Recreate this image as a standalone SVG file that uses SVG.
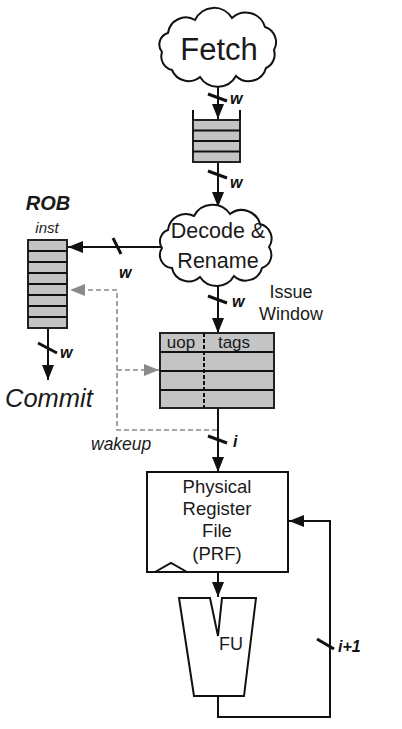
<svg xmlns="http://www.w3.org/2000/svg" width="402" height="729" viewBox="0 0 402 729">
<defs>
<marker id="ah" viewBox="0 0 15 12" refX="15" refY="6" markerWidth="15" markerHeight="12" orient="auto" markerUnits="userSpaceOnUse"><path d="M0,0 L15,6 L0,12 z" fill="#111"/></marker>
<marker id="ahg" viewBox="0 0 15 12" refX="15" refY="6" markerWidth="15" markerHeight="12" orient="auto" markerUnits="userSpaceOnUse"><path d="M0,0 L15,6 L0,12 z" fill="#8a8a8a"/></marker>
</defs>
<style>
.ln{stroke:#111;stroke-width:2;fill:none}
.sl{stroke:#111;stroke-width:3;fill:none}
.dg{stroke:#8a8a8a;stroke-width:1.6;fill:none;stroke-dasharray:5,3}
.q{fill:#c4c4c4;stroke:#222;stroke-width:2}
.t{font-family:"Liberation Sans",Arial,sans-serif;fill:#1a1a1a}
.lb{font-family:"Liberation Sans",Arial,sans-serif;font-weight:bold;font-style:italic;font-size:16px;fill:#111}
.cl{fill:#fff;stroke:#111;stroke-width:2}
</style>
<rect width="402" height="729" fill="#fff"/>

<g id="connectors">
<line class="ln" x1="218" y1="85" x2="218" y2="119" marker-end="url(#ah)"/>
<line class="sl" x1="208" y1="94" x2="227" y2="101"/>
<text class="lb" x="230" y="104">w</text>

<line class="ln" x1="218" y1="162" x2="218" y2="207" marker-end="url(#ah)"/>
<line class="sl" x1="208" y1="171" x2="227" y2="178"/>
<text class="lb" x="230" y="188">w</text>

<line class="ln" x1="162" y1="247" x2="68" y2="247" marker-end="url(#ah)"/>
<line class="sl" x1="113" y1="238" x2="121" y2="254"/>
<text class="lb" x="119" y="278">w</text>

<line class="ln" x1="218" y1="285" x2="218" y2="333" marker-end="url(#ah)"/>
<line class="sl" x1="208" y1="296" x2="227" y2="303"/>
<text class="lb" x="232" y="307">w</text>

<line class="ln" x1="218" y1="408" x2="218" y2="472" marker-end="url(#ah)"/>
<line class="sl" x1="208" y1="436" x2="227" y2="443"/>
<text class="lb" x="233" y="447">i</text>

<line class="ln" x1="218" y1="572" x2="218" y2="597" marker-end="url(#ah)"/>

<polyline class="ln" points="218,696 218,717 330,717 330,521 289,521" marker-end="url(#ah)"/>
<line class="sl" x1="317" y1="639" x2="334" y2="649"/>
<text class="lb" x="338" y="652">i+1</text>

<line class="ln" x1="48" y1="328" x2="48" y2="380" marker-end="url(#ah)"/>
<line class="sl" x1="38" y1="343" x2="57" y2="353"/>
<text class="lb" x="60" y="358">w</text>

<path class="dg" d="M217,430 H117 V290 H70" marker-end="url(#ahg)"/>
<path class="dg" d="M117,370 H159" marker-end="url(#ahg)"/>
<text class="t" x="91" y="450" font-size="17.5" font-style="italic">wakeup</text>
</g>

<g id="fetch">
<path class="cl" d="M168,33 A18,18 0 0 1 195,20 A21,21 0 0 1 232,18 A20,20 0 0 1 265,27 A16,16 0 0 1 274,50 A15,15 0 0 1 266,68 A18,18 0 0 1 236,76 A21,21 0 0 1 200,77 A18,18 0 0 1 172,70 A14,14 0 0 1 162,52 A12,12 0 0 1 168,33 Z"/>
<text class="t" x="219" y="60" font-size="31" text-anchor="middle">Fetch</text>
</g>

<g id="fetch-queue">
<rect class="q" x="193" y="120" width="47" height="42"/>
<line class="ln" x1="193" y1="130.5" x2="240" y2="130.5"/>
<line class="ln" x1="193" y1="141" x2="240" y2="141"/>
<line class="ln" x1="193" y1="151.5" x2="240" y2="151.5"/>
<line class="ln" x1="193" y1="110" x2="193" y2="120"/>
<line class="ln" x1="240" y1="110" x2="240" y2="120"/>
</g>

<g id="decode">
<path class="cl" d="M168,230 A18,18 0 0 1 194,216 A21,21 0 0 1 230,214 A19,19 0 0 1 260,224 A15,15 0 0 1 269,247 A14,14 0 0 1 262,268 A17,17 0 0 1 234,276 A20,20 0 0 1 200,277 A17,17 0 0 1 172,268 A13,13 0 0 1 162,248 A12,12 0 0 1 168,230 Z"/>
<text class="t" x="218" y="238" font-size="21.5" text-anchor="middle">Decode &amp;</text>
<text class="t" x="218" y="268" font-size="21.5" text-anchor="middle">Rename</text>
</g>

<g id="rob">
<text class="t" x="48" y="210" font-size="20" font-weight="bold" font-style="italic" text-anchor="middle">ROB</text>
<text class="t" x="47" y="233" font-size="15" font-style="italic" text-anchor="middle">inst</text>
<rect class="q" x="28" y="240" width="39" height="88"/>
<line class="ln" x1="28" y1="251" x2="67" y2="251"/>
<line class="ln" x1="28" y1="262" x2="67" y2="262"/>
<line class="ln" x1="28" y1="273" x2="67" y2="273"/>
<line class="ln" x1="28" y1="284" x2="67" y2="284"/>
<line class="ln" x1="28" y1="295" x2="67" y2="295"/>
<line class="ln" x1="28" y1="306" x2="67" y2="306"/>
<line class="ln" x1="28" y1="317" x2="67" y2="317"/>
</g>

<g id="commit">
<text class="t" x="5" y="407" font-size="25.5" font-style="italic">Commit</text>
</g>

<g id="issue-window">
<text class="t" x="291" y="298" font-size="18" text-anchor="middle">Issue</text>
<text class="t" x="291" y="320" font-size="18" text-anchor="middle">Window</text>
<rect class="q" x="160" y="333" width="114" height="75"/>
<line class="ln" x1="160" y1="352" x2="274" y2="352"/>
<line class="ln" x1="160" y1="371" x2="274" y2="371"/>
<line class="ln" x1="160" y1="390" x2="274" y2="390"/>
<line x1="204" y1="333" x2="204" y2="408" stroke="#111" stroke-width="2" stroke-dasharray="4,2"/>
<text class="t" x="181" y="348" font-size="17" text-anchor="middle">uop</text>
<text class="t" x="234" y="348" font-size="17" text-anchor="middle">tags</text>
</g>

<g id="prf">
<rect x="147" y="472" width="141" height="100" fill="#fff" stroke="#111" stroke-width="2"/>
<polyline class="ln" points="155,572 171,563 187,572"/>
<text class="t" x="217" y="493" font-size="18.5" text-anchor="middle">Physical</text>
<text class="t" x="217" y="515" font-size="18.5" text-anchor="middle">Register</text>
<text class="t" x="217" y="537" font-size="18.5" text-anchor="middle">File</text>
<text class="t" x="217" y="560" font-size="18.5" text-anchor="middle">(PRF)</text>
</g>

<g id="fu">
<polygon points="179,598 210,598 218,636 222,598 256,598 244,696 194,696" fill="#fff" stroke="#111" stroke-width="2" stroke-linejoin="miter"/>
<text class="t" x="219" y="650" font-size="18">FU</text>
</g>
</svg>
